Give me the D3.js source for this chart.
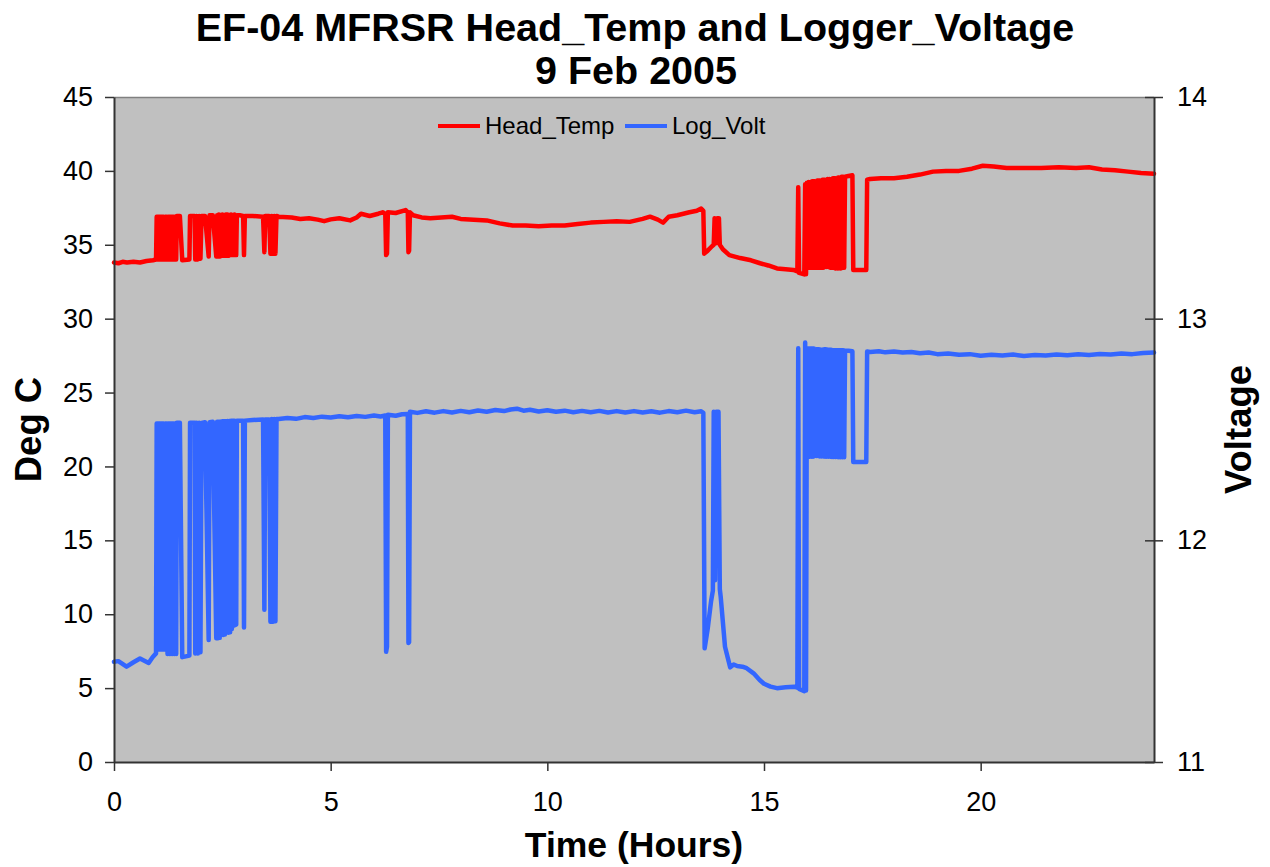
<!DOCTYPE html>
<html>
<head>
<meta charset="utf-8">
<script src="https://cdn.jsdelivr.net/npm/d3@7"></script>
<style>
  html, body { margin: 0; padding: 0; background: #ffffff; }
  svg { display: block; }
  text { font-family: "Liberation Sans", Arial, sans-serif; }
</style>
</head>
<body>
<svg id="chart" width="1270" height="867"></svg>
<script>
// ---------- DATA ----------
const titleLines = ["EF-04 MFRSR Head_Temp and Logger_Voltage", "9 Feb 2005"];
const xTickValues = [0, 5, 10, 15, 20];
const leftTickValues = [0, 5, 10, 15, 20, 25, 30, 35, 40, 45];
const rightTickValues = [11, 12, 13, 14];
const seriesNames = ["Head_Temp", "Log_Volt"];

// Head_Temp: [hour, deg C]
const headTemp = [
  [0.00,33.8],[0.10,33.75],[0.20,33.85],[0.30,33.8],[0.45,33.85],[0.60,33.8],[0.75,33.9],[0.90,33.95],[0.97,34.0],
  [0.985,36.9],[1.005,34.0],[1.025,36.9],[1.045,34.0],[1.065,36.9],[1.085,34.0],[1.105,36.9],[1.125,34.0],[1.145,36.9],[1.165,34.0],[1.18,36.9],
  [1.21,36.9],
  [1.235,34.0],[1.255,36.9],[1.275,34.0],[1.295,36.9],[1.315,34.0],[1.335,36.9],[1.355,34.0],[1.375,36.9],[1.395,34.0],[1.415,36.9],[1.435,34.0],[1.45,36.95],
  [1.52,36.95],
  [1.575,33.95],[1.74,34.0],[1.755,36.95],
  [1.80,36.95],[1.86,36.95],
  [1.875,34.0],[1.905,36.95],[1.935,34.0],[1.965,36.95],[1.995,34.05],[2.02,36.95],
  [2.10,36.95],
  [2.185,34.2],[2.205,37.0],
  [2.28,37.0],
  [2.36,34.2],[2.38,37.0],[2.40,34.2],[2.42,37.05],[2.44,34.2],[2.46,37.0],[2.48,34.25],[2.50,37.05],[2.52,34.25],[2.54,37.0],
  [2.56,34.25],[2.58,37.05],[2.60,34.25],[2.62,37.05],[2.64,34.25],[2.66,37.0],[2.68,34.3],[2.70,37.05],[2.72,34.3],[2.74,37.0],
  [2.76,34.3],[2.78,37.05],[2.80,34.3],[2.82,34.3],[2.835,37.0],
  [2.90,37.0],[2.98,36.95],
  [3.00,34.3],[3.02,36.95],
  [3.20,36.95],[3.44,36.9],
  [3.47,34.5],[3.49,36.95],
  [3.58,36.95],
  [3.61,34.4],[3.64,36.95],[3.67,34.4],[3.70,36.95],[3.725,34.4],[3.75,36.95],
  [3.80,36.9],[4.10,36.85],[4.30,36.75],[4.50,36.8],[4.70,36.7],[4.85,36.6],[5.00,36.72],[5.20,36.8],[5.45,36.65],[5.60,36.85],[5.70,37.1],[5.90,36.95],[6.10,37.1],[6.20,37.2],
  [6.26,37.1],[6.28,34.3],[6.30,34.4],[6.32,37.2],[6.50,37.15],[6.73,37.35],
  [6.78,37.2],[6.795,34.5],[6.81,34.6],[6.83,37.2],
  [6.90,37.0],[7.10,36.85],[7.30,36.8],[7.55,36.85],[7.80,36.9],[8.00,36.75],[8.30,36.7],[8.60,36.65],[8.90,36.45],[9.20,36.3],
  [9.50,36.3],[9.80,36.25],[10.10,36.3],[10.40,36.3],[10.70,36.4],[11.00,36.5],[11.30,36.55],[11.60,36.6],[11.90,36.55],[12.20,36.75],
  [12.37,36.9],[12.55,36.7],[12.67,36.5],[12.80,36.9],[13.00,37.0],[13.28,37.2],[13.45,37.3],[13.55,37.45],[13.60,37.3],
  [13.62,34.4],[13.70,34.6],[13.80,34.9],[13.84,35.0],[13.86,36.8],[13.89,35.1],[13.92,36.8],[13.96,36.8],[13.98,35.0],
  [14.05,34.7],[14.20,34.3],[14.45,34.1],[14.70,33.95],[14.91,33.75],[15.10,33.6],[15.30,33.4],[15.50,33.35],[15.68,33.3],[15.77,33.2],
  [15.79,38.9],[15.81,33.1],[15.93,33.0],[15.95,39.1],[15.97,33.0],[15.99,39.2],
  [16.01,33.45],[16.03,39.25],[16.05,33.45],[16.07,39.25],[16.09,33.45],[16.11,39.3],[16.13,33.45],[16.15,39.3],[16.17,33.45],[16.19,39.3],
  [16.21,33.45],[16.23,39.35],[16.25,33.45],[16.27,39.35],[16.29,33.45],[16.31,39.35],[16.33,33.45],[16.35,39.4],[16.37,33.45],[16.39,39.4],
  [16.41,33.5],[16.43,39.4],[16.45,33.5],[16.47,39.45],[16.49,33.5],[16.51,39.45],[16.53,33.45],[16.55,39.45],[16.57,33.45],[16.59,39.5],
  [16.61,33.45],[16.63,39.5],[16.65,33.4],[16.67,39.5],[16.69,33.4],[16.71,39.55],[16.73,33.4],[16.75,39.55],[16.77,33.4],[16.79,39.6],
  [16.81,33.45],[16.83,39.6],[16.85,33.45],[16.87,39.6],
  [16.95,39.65],[17.04,39.7],
  [17.06,33.3],[17.36,33.3],[17.38,39.4],
  [17.45,39.45],[17.70,39.5],[18.00,39.5],[18.30,39.6],[18.60,39.75],[18.90,39.95],[19.20,40.0],[19.50,40.0],[19.80,40.15],[20.05,40.35],
  [20.30,40.3],[20.60,40.2],[21.00,40.2],[21.40,40.2],[21.80,40.25],[22.20,40.2],[22.50,40.25],[22.80,40.1],[23.10,40.05],[23.40,39.95],
  [23.70,39.85],[24.00,39.8]
];

// Log_Volt: [hour, volts]
const logVolt = [
  [0.00,11.452],[0.10,11.455],[0.29,11.43],[0.45,11.45],[0.60,11.467],[0.80,11.447],[0.89,11.473],[0.97,11.49],
  [0.985,12.527],[1.005,11.507],[1.025,12.527],[1.045,11.507],[1.065,12.527],[1.085,11.507],[1.105,12.527],[1.125,11.507],[1.145,12.527],[1.165,11.507],[1.18,12.527],
  [1.21,12.527],
  [1.235,11.487],[1.255,12.527],[1.275,11.487],[1.295,12.527],[1.315,11.487],[1.335,12.527],[1.355,11.487],[1.375,12.527],[1.395,11.487],[1.415,12.527],[1.435,11.487],[1.45,12.53],
  [1.52,12.53],
  [1.575,11.473],[1.74,11.48],[1.755,12.53],
  [1.80,12.53],[1.86,12.53],
  [1.875,11.49],[1.905,12.53],[1.935,11.49],[1.965,12.53],[1.995,11.495],[2.02,12.53],
  [2.10,12.533],
  [2.185,11.55],[2.205,12.533],
  [2.28,12.535],
  [2.36,11.558],[2.38,12.535],[2.40,11.558],[2.42,12.535],[2.44,11.56],[2.46,12.535],[2.48,11.573],[2.50,12.537],[2.52,11.573],[2.54,12.537],
  [2.56,11.575],[2.58,12.537],[2.60,11.583],[2.62,12.538],[2.64,11.583],[2.66,12.538],[2.68,11.585],[2.70,12.54],[2.72,11.6],[2.74,12.54],
  [2.76,11.615],[2.78,12.54],[2.80,11.618],[2.82,11.62],[2.835,12.54],
  [2.90,12.54],[2.98,12.54],
  [3.00,11.607],[3.02,12.54],
  [3.20,12.543],[3.44,12.545],
  [3.47,11.687],[3.49,12.545],
  [3.58,12.545],
  [3.61,11.633],[3.64,12.547],[3.67,11.633],[3.70,12.547],[3.725,11.635],[3.75,12.547],
  [3.80,12.547],[4.00,12.552],[4.20,12.548],[4.40,12.556],[4.60,12.552],[4.80,12.558],[5.00,12.554],[5.20,12.56],[5.40,12.555],
  [5.60,12.561],[5.80,12.557],[6.00,12.563],[6.15,12.559],[6.26,12.563],
  [6.28,11.497],[6.30,11.52],[6.32,12.567],[6.50,12.562],[6.65,12.569],[6.78,12.57],
  [6.795,11.537],[6.81,11.54],[6.83,12.58],
  [7.00,12.575],[7.20,12.582],[7.40,12.576],[7.60,12.583],[7.80,12.577],[8.00,12.584],[8.20,12.578],[8.40,12.586],[8.60,12.58],
  [8.80,12.588],[9.00,12.583],[9.15,12.59],[9.30,12.594],[9.45,12.585],[9.60,12.589],[9.80,12.581],[10.00,12.587],[10.20,12.58],
  [10.40,12.585],[10.60,12.578],[10.80,12.584],[11.00,12.578],[11.20,12.584],[11.40,12.577],[11.60,12.583],[11.80,12.577],
  [12.00,12.583],[12.20,12.577],[12.40,12.582],[12.60,12.576],[12.80,12.583],[13.00,12.578],[13.20,12.585],[13.40,12.578],[13.55,12.582],
  [13.60,12.575],[13.63,11.513],[13.70,11.6],[13.78,11.727],[13.82,11.773],[13.84,12.58],[13.87,11.82],[13.90,12.58],[13.95,12.58],[13.98,11.78],
  [14.00,11.747],[14.10,11.52],[14.22,11.427],[14.30,11.44],[14.38,11.433],[14.50,11.43],[14.60,11.423],[14.76,11.4],[14.90,11.37],[15.00,11.353],
  [15.15,11.34],[15.30,11.333],[15.50,11.337],[15.70,11.34],[15.77,11.335],
  [15.79,12.867],[15.81,11.33],[15.93,11.32],[15.95,12.893],[15.97,11.323],[15.99,12.867],
  [16.01,12.377],[16.03,12.865],[16.05,12.377],[16.07,12.865],[16.09,12.377],[16.11,12.865],[16.13,12.377],[16.15,12.865],[16.17,12.38],[16.19,12.862],
  [16.21,12.38],[16.23,12.862],[16.25,12.38],[16.27,12.862],[16.29,12.378],[16.31,12.86],[16.33,12.378],[16.35,12.86],[16.37,12.378],[16.39,12.862],
  [16.41,12.377],[16.43,12.862],[16.45,12.377],[16.47,12.86],[16.49,12.377],[16.51,12.86],[16.53,12.377],[16.55,12.86],[16.57,12.376],[16.59,12.858],
  [16.61,12.376],[16.63,12.858],[16.65,12.376],[16.67,12.858],[16.69,12.376],[16.71,12.858],[16.73,12.375],[16.75,12.857],[16.77,12.375],[16.79,12.857],
  [16.81,12.375],[16.83,12.857],[16.85,12.375],[16.87,12.855],
  [16.95,12.855],[17.04,12.853],
  [17.06,12.353],[17.36,12.353],[17.38,12.852],
  [17.45,12.85],[17.65,12.853],[17.80,12.848],[18.00,12.852],[18.20,12.847],[18.40,12.85],[18.60,12.844],[18.80,12.847],[19.00,12.84],
  [19.25,12.843],[19.50,12.837],[19.75,12.84],[20.00,12.833],[20.25,12.837],[20.50,12.834],[20.75,12.838],[21.00,12.832],[21.25,12.836],
  [21.50,12.834],[21.75,12.838],[22.00,12.835],[22.25,12.839],[22.50,12.836],[22.75,12.841],[23.00,12.838],[23.25,12.843],[23.50,12.84],
  [23.75,12.845],[24.00,12.847]
];

// ---------- LAYOUT ----------
const plot = { left: 114, right: 1154, top: 97, bottom: 762 };
const colors = { temp: "#ff0000", volt: "#3366ff", bg: "#c0c0c0", axis: "#333333" };

const svg = d3.select("#chart");

const x = d3.scaleLinear().domain([0, 24]).range([plot.left, plot.right]);
const yL = d3.scaleLinear().domain([0, 45]).range([plot.bottom, plot.top]);
const yR = d3.scaleLinear().domain([11, 14]).range([plot.bottom, plot.top]);

// plot background
svg.append("rect")
  .attr("x", plot.left).attr("y", plot.top)
  .attr("width", plot.right - plot.left).attr("height", plot.bottom - plot.top)
  .attr("fill", colors.bg);

// top border (gray)
svg.append("line")
  .attr("x1", plot.left).attr("x2", plot.right)
  .attr("y1", plot.top + 0.5).attr("y2", plot.top + 0.5)
  .attr("stroke", "#808080").attr("stroke-width", 1.5);

// ---------- SERIES ----------
const lineTemp = d3.line().x(d => x(d[0])).y(d => yL(d[1]));
const lineVolt = d3.line().x(d => x(d[0])).y(d => yR(d[1]));

svg.append("path").datum(headTemp)
  .attr("d", lineTemp).attr("fill", "none")
  .attr("stroke", colors.temp).attr("stroke-width", 4.5)
  .attr("stroke-linejoin", "round").attr("stroke-linecap", "round");

svg.append("path").datum(logVolt)
  .attr("d", lineVolt).attr("fill", "none")
  .attr("stroke", colors.volt).attr("stroke-width", 4.5)
  .attr("stroke-linejoin", "round").attr("stroke-linecap", "round");

// ---------- AXES ----------
const tickFont = 27;

const gx = svg.append("g").attr("transform", `translate(0,${plot.bottom})`)
  .call(d3.axisBottom(x).tickValues(xTickValues).tickSizeInner(9).tickSizeOuter(0).tickPadding(21).tickFormat(d3.format("d")));
const gl = svg.append("g").attr("transform", `translate(${plot.left},0)`)
  .call(d3.axisLeft(yL).tickValues(leftTickValues).tickSizeInner(9).tickSizeOuter(0).tickPadding(12).tickFormat(d3.format("d")));
const gr = svg.append("g").attr("transform", `translate(${plot.right},0)`)
  .call(d3.axisRight(yR).tickValues(rightTickValues).tickSizeInner(9).tickSizeOuter(0).tickPadding(14).tickFormat(d3.format("d")));
gr.selectAll(".tick line").attr("x1", -9);

[gx, gl, gr].forEach(g => {
  g.select(".domain").attr("stroke", colors.axis).attr("stroke-width", 2);
  g.selectAll(".tick line").attr("stroke", colors.axis).attr("stroke-width", 1.5);
  g.selectAll(".tick text")
    .attr("fill", "#000")
    .style("font-family", '"Liberation Sans", Arial, sans-serif')
    .style("font-size", tickFont + "px");
});

// ---------- TITLES ----------
const cx = (plot.left + plot.right) / 2;
svg.append("text").attr("x", cx + 1).attr("y", 41)
  .attr("text-anchor", "middle").style("font-weight", "bold").style("font-size", "39.5px")
  .text(titleLines[0]);
svg.append("text").attr("x", cx + 2).attr("y", 84)
  .attr("text-anchor", "middle").style("font-weight", "bold").style("font-size", "39.5px")
  .text(titleLines[1]);

svg.append("text").attr("x", cx).attr("y", 857)
  .attr("text-anchor", "middle").style("font-weight", "bold").style("font-size", "35.5px")
  .text("Time (Hours)");

svg.append("text")
  .attr("transform", `translate(41,${(plot.top + plot.bottom) / 2}) rotate(-90)`)
  .attr("text-anchor", "middle").style("font-weight", "bold").style("font-size", "36.5px")
  .text("Deg C");

svg.append("text")
  .attr("transform", `translate(1251,${(plot.top + plot.bottom) / 2}) rotate(-90)`)
  .attr("text-anchor", "middle").style("font-weight", "bold").style("font-size", "36.5px")
  .text("Voltage");

// ---------- LEGEND ----------
const legend = svg.append("g");
const legendItems = [
  { name: seriesNames[0], color: colors.temp, x0: 438 },
  { name: seriesNames[1], color: colors.volt, x0: 625 }
];
legendItems.forEach(it => {
  legend.append("line")
    .attr("x1", it.x0).attr("x2", it.x0 + 42).attr("y1", 126).attr("y2", 126)
    .attr("stroke", it.color).attr("stroke-width", 4);
  legend.append("text")
    .attr("x", it.x0 + 47).attr("y", 134)
    .style("font-size", "24px")
    .text(it.name);
});
</script>
</body>
</html>
